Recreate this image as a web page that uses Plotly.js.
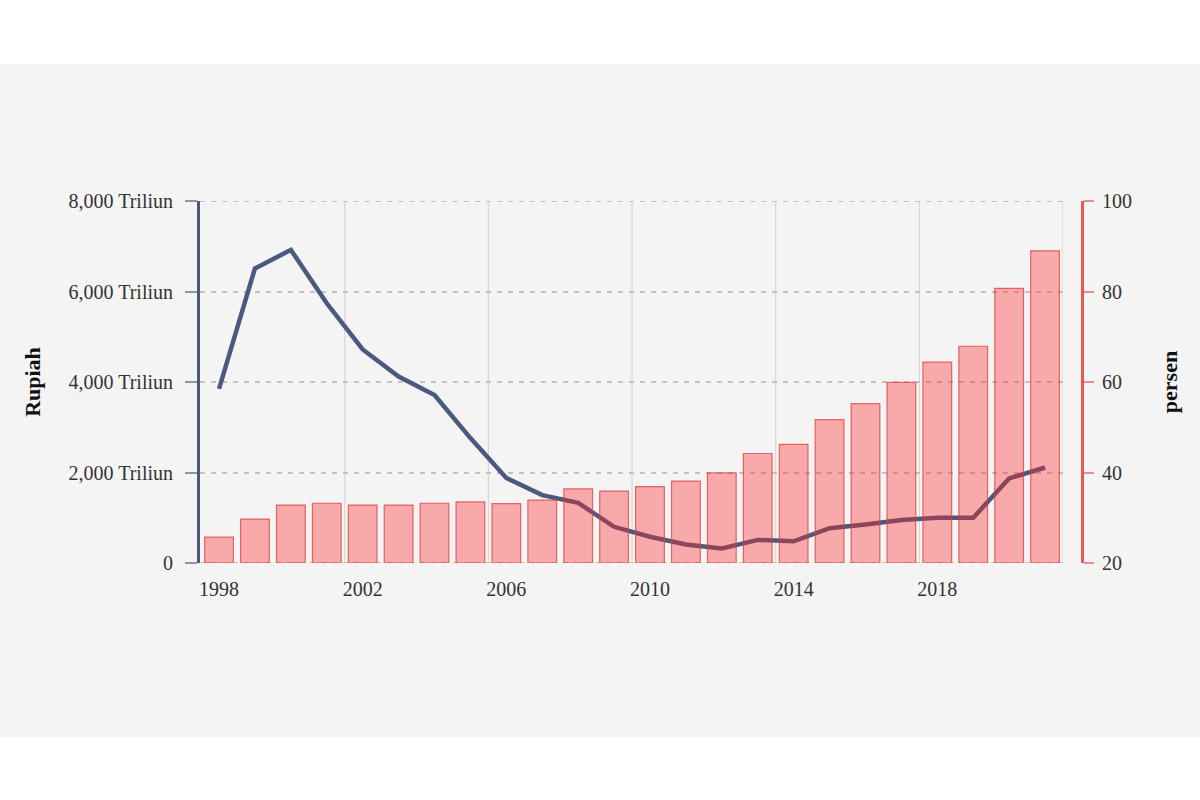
<!DOCTYPE html>
<html>
<head>
<meta charset="utf-8">
<script src="https://cdn.plot.ly/plotly-3.0.1.min.js"></script>
<style>html,body{margin:0;padding:0;background:#fff;}#chart{width:1200px;height:800px;}</style>
</head>
<body>
<div id="chart"></div>
<script>
const years = [1998,1999,2000,2001,2002,2003,2004,2005,2006,2007,2008,2009,2010,2011,2012,2013,2014,2015,2016,2017,2018,2019,2020,2021];
const rupiahTriliun = [570,970,1280,1320,1280,1280,1320,1350,1310,1390,1640,1590,1690,1810,1990,2420,2620,3170,3520,3990,4440,4790,6070,6900];
const persen = [58.5,85.1,89.2,77.4,67.2,61.2,57.1,47.6,38.8,35.0,33.3,28.0,25.8,24.1,23.2,25.1,24.8,27.7,28.5,29.5,30.0,30.0,38.7,41.1];
const xTickVals = [1998,2002,2006,2010,2014,2018];
const xTickText = ['1998','2002','2006','2010','2014','2018'];
const xGridYears = [2001.5,2005.5,2009.5,2013.5,2017.5,2021.5];
const leftTickVals = [0,2000,4000,6000,8000];
const leftTickText = ['0','2,000 Triliun','4,000 Triliun','6,000 Triliun','8,000 Triliun'];
const rightTickVals = [20,40,60,80,100];
const rightTickText = ['20','40','60','80','100'];

const serif = '"Liberation Serif", "DejaVu Serif", serif';
const blue = '#4a5a7e';
const red = '#e8585a';
const gridCol = '#c2c2c2';

const lineTrace = {
  x: years, y: persen, type: 'scatter', mode: 'lines', yaxis: 'y',
  line: {color: blue, width: 4.5}, name: 'persen'
};
const barTrace = {
  x: years, y: rupiahTriliun, type: 'bar', yaxis: 'y2', width: 0.8,
  marker: {color: 'rgba(255,35,35,0.36)', line: {color: 'rgba(225,60,60,0.75)', width: 1.2}},
  name: 'Rupiah'
};

const shapes = xGridYears.map(v => ({
  type: 'line', xref: 'x', yref: 'paper', x0: v, x1: v, y0: 0, y1: 1,
  line: {color: '#d6d6d6', width: 1.2}, layer: 'below'
}));
[20, 100].forEach(v => shapes.push({
  type: 'line', xref: 'paper', yref: 'y', x0: 0, x1: 0.863, y0: v, y1: v,
  line: {color: gridCol, width: 2, dash: '5px,6px'}, layer: 'below'
}));
shapes.push({type:'rect', xref:'paper', yref:'paper', x0:-0.3, x1:1.1, y0:(563-64)/362, y1:(563+10)/362 + 1, fillcolor:'#ffffff', line:{width:0}, layer:'above'});
shapes.push({type:'rect', xref:'paper', yref:'paper', x0:-0.3, x1:1.1, y0:(563-737)/362, y1:(563-820)/362, fillcolor:'#ffffff', line:{width:0}, layer:'above'});

const tickFont = {family: serif, size: 20, color: '#333'};
const titleFont = {family: serif, size: 22, color: '#111', weight: 'bold'};

const layout = {
  width: 1200, height: 800,
  margin: {l: 200, r: 0, t: 201, b: 237},
  paper_bgcolor: '#f4f4f4', plot_bgcolor: '#f4f4f4',
  showlegend: false,
  font: {family: serif, size: 20, color: '#333'},
  xaxis: {
    domain: [0, 0.863], range: [1997.47, 2021.5],
    tickvals: xTickVals, ticktext: xTickText, showgrid: false, zeroline: false,
    showline: false, ticks: '', ticklabelstandoff: 12,
    tickfont: tickFont
  },
  yaxis: {
    range: [20, 100], anchor: 'free', position: 0.882, side: 'right',
    tickvals: rightTickVals, ticktext: rightTickText,
    showline: true, linecolor: red, linewidth: 3,
    ticks: 'outside', ticklen: 10, tickwidth: 2, tickcolor: '#f08a8a',
    ticklabelstandoff: 4,
    showgrid: true, gridcolor: gridCol, gridwidth: 2, griddash: '5px,6px',
    zeroline: false,
    tickfont: tickFont,
    title: {text: 'persen', font: titleFont, standoff: 30}
  },
  yaxis2: {
    range: [0, 8000], overlaying: 'y', side: 'left', anchor: 'x',
    tickvals: leftTickVals, ticktext: leftTickText,
    showline: true, linecolor: blue, linewidth: 3,
    ticks: 'outside', ticklen: 12, tickwidth: 2, tickcolor: '#8a96ad',
    ticklabelstandoff: 8,
    showgrid: false, zeroline: false,
    tickfont: tickFont,
    title: {text: 'Rupiah', font: titleFont, standoff: 22}
  },
  shapes: shapes
};

Plotly.newPlot('chart', [lineTrace, barTrace], layout, {displayModeBar: false, staticPlot: true});
</script>
</body>
</html>
